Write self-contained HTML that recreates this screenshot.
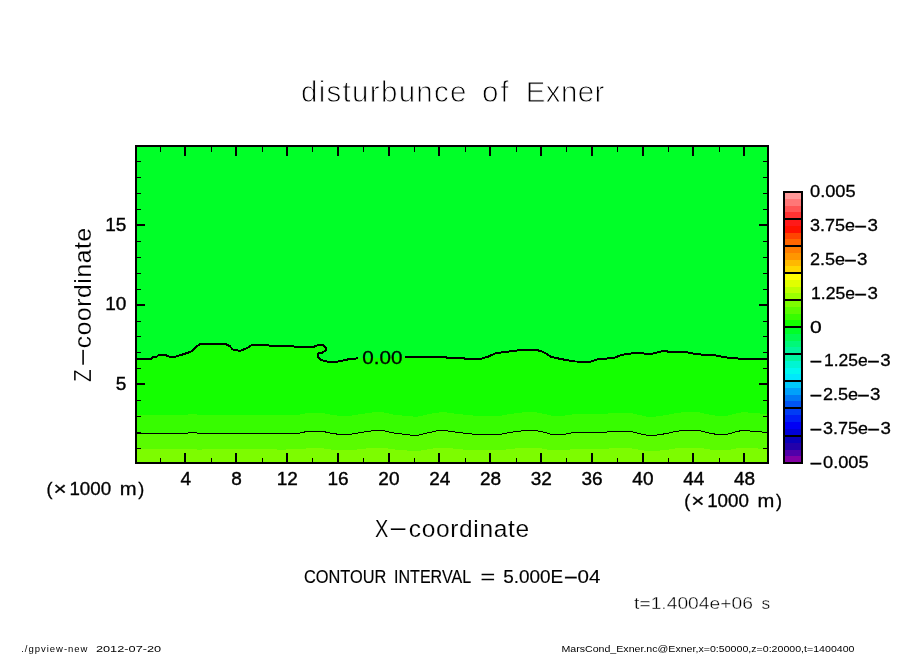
<!DOCTYPE html>
<html><head><meta charset="utf-8"><title>disturbunce of Exner</title>
<style>html,body{margin:0;padding:0;background:#fff}svg{display:block}text{font-family:"Liberation Sans",sans-serif;fill:#000}</style></head><body>
<svg width="904" height="654" viewBox="0 0 904 654">
<rect width="904" height="654" fill="#fff"/>
<g shape-rendering="crispEdges">
<rect x="136" y="146" width="632" height="317" fill="#00ff28"/>
<polygon fill="#14ff00" points="136.0,359.0 151.0,359.0 152.5,357.4 156.0,357.2 158.5,355.2 160.5,354.9 165.4,355.1 169.8,356.9 176.0,356.5 183.0,354.4 191.0,351.6 196.4,346.8 200.3,343.6 224.7,343.6 230.0,346.3 232.7,349.5 239.7,350.9 245.9,348.6 252.1,345.0 268.0,345.0 269.8,345.9 293.3,345.9 294.3,346.8 313.6,346.8 318.0,345.0 322.5,345.0 325.7,347.3 325.7,350.4 322.5,352.7 318.6,353.4 317.5,356.2 319.8,359.2 324.2,361.0 329.6,361.9 338.4,361.5 349.0,359.2 357.9,358.3 405.3,357.1 430.0,356.9 446.0,356.9 447.0,357.8 463.6,357.8 464.6,358.7 480.5,358.9 488.4,356.5 496.4,353.0 504.3,352.1 513.2,350.9 522.9,349.8 535.3,349.8 541.5,351.2 546.8,353.9 551.2,356.9 557.4,358.3 564.5,359.7 575.1,361.5 591.0,361.6 598.8,358.8 613.2,358.3 622.0,354.8 637.5,352.6 646.4,353.9 653.0,353.5 664.0,350.8 668.5,351.7 684.0,351.7 692.8,353.5 703.9,354.8 715.0,355.4 728.2,357.7 741.5,358.8 768.0,358.8 768,463 136,463"/>
<polygon fill="#37fc00" points="136.0,414.5 188.0,414.5 190.0,413.9 196.0,413.9 198.0,414.9 204.0,414.5 277.0,414.5 279.0,415.2 284.5,415.2 286.0,414.5 300.0,414.5 307.7,413.0 322.3,413.0 330.0,414.5 339.0,415.8 349.7,415.8 361.9,413.9 374.0,412.2 382.6,412.2 393.5,414.5 403.3,415.6 416.7,416.9 425.2,414.9 436.1,412.7 444.6,412.2 456.8,413.9 466.5,414.9 476.3,415.8 500.6,415.8 510.4,413.9 525.0,412.2 535.9,412.2 544.4,413.9 551.7,415.8 563.4,415.8 574.3,414.1 606.0,413.9 610.8,413.0 630.3,413.0 640.0,415.1 647.3,416.7 654.6,416.7 666.8,414.9 676.5,413.0 685.0,412.1 698.4,412.1 705.7,413.9 715.5,415.6 727.6,415.6 737.4,413.0 744.7,412.1 752.0,413.0 766.6,413.9 768.0,413.9 768,463 136,463"/>
<polygon fill="#5afc00" points="136.0,433.0 188.0,433.0 190.0,432.3 196.0,432.3 198.0,433.5 204.0,433.0 277.0,433.0 279.0,433.8 284.5,433.8 286.0,433.0 300.0,433.0 307.7,431.3 322.3,431.3 330.0,433.0 339.0,434.4 349.7,434.4 361.9,432.3 374.0,430.5 382.6,430.5 393.5,433.0 403.3,434.2 416.7,435.7 425.2,433.5 436.1,431.0 444.6,430.5 456.8,432.3 466.5,433.5 476.3,434.4 500.6,434.4 510.4,432.3 525.0,430.5 535.9,430.5 544.4,432.3 551.7,434.4 563.4,434.4 574.3,432.5 606.0,432.3 610.8,431.3 630.3,431.3 640.0,433.7 647.3,435.4 654.6,435.4 666.8,433.5 676.5,431.3 685.0,430.3 698.4,430.3 705.7,432.3 715.5,434.2 727.6,434.2 737.4,431.3 744.7,430.3 752.0,431.3 766.6,432.3 768.0,432.3 768,463 136,463"/>
<polygon fill="#7dfc00" points="136.0,449.4 188.0,449.4 190.0,448.9 196.0,448.9 198.0,449.8 204.0,449.4 277.0,449.4 279.0,450.0 284.5,450.0 286.0,449.4 300.0,449.4 307.7,448.2 322.3,448.2 330.0,449.4 339.0,450.4 349.7,450.4 361.9,448.9 374.0,447.6 382.6,447.6 393.5,449.4 403.3,450.2 416.7,451.3 425.2,449.8 436.1,448.0 444.6,447.6 456.8,448.9 466.5,449.8 476.3,450.4 500.6,450.4 510.4,448.9 525.0,447.6 535.9,447.6 544.4,448.9 551.7,450.4 563.4,450.4 574.3,449.0 606.0,448.9 610.8,448.2 630.3,448.2 640.0,449.9 647.3,451.1 654.6,451.1 666.8,449.8 676.5,448.2 685.0,447.5 698.4,447.5 705.7,448.9 715.5,450.2 727.6,450.2 737.4,448.2 744.7,447.5 752.0,448.2 766.6,448.9 768.0,448.9 768,463 136,463"/>
</g>
<polyline fill="none" stroke="#000" stroke-width="2" stroke-linejoin="round" shape-rendering="crispEdges" points="136.0,359.0 151.0,359.0 152.5,357.4 156.0,357.2 158.5,355.2 160.5,354.9 165.4,355.1 169.8,356.9 176.0,356.5 183.0,354.4 191.0,351.6 196.4,346.8 200.3,343.6 224.7,343.6 230.0,346.3 232.7,349.5 239.7,350.9 245.9,348.6 252.1,345.0 268.0,345.0 269.8,345.9 293.3,345.9 294.3,346.8 313.6,346.8 318.0,345.0 322.5,345.0 325.7,347.3 325.7,350.4 322.5,352.7 318.6,353.4 317.5,356.2 319.8,359.2 324.2,361.0 329.6,361.9 338.4,361.5 349.0,359.2 357.9,358.3"/>
<polyline fill="none" stroke="#000" stroke-width="2" stroke-linejoin="round" shape-rendering="crispEdges" points="405.3,357.1 430.0,356.9 446.0,356.9 447.0,357.8 463.6,357.8 464.6,358.7 480.5,358.9 488.4,356.5 496.4,353.0 504.3,352.1 513.2,350.9 522.9,349.8 535.3,349.8 541.5,351.2 546.8,353.9 551.2,356.9 557.4,358.3 564.5,359.7 575.1,361.5 591.0,361.6 598.8,358.8 613.2,358.3 622.0,354.8 637.5,352.6 646.4,353.9 653.0,353.5 664.0,350.8 668.5,351.7 684.0,351.7 692.8,353.5 703.9,354.8 715.0,355.4 728.2,357.7 741.5,358.8 768.0,358.8"/>
<polyline fill="none" stroke="#000" stroke-width="1" shape-rendering="crispEdges" points="136.0,433.0 188.0,433.0 190.0,432.3 196.0,432.3 198.0,433.5 204.0,433.0 277.0,433.0 279.0,433.8 284.5,433.8 286.0,433.0 300.0,433.0 307.7,431.3 322.3,431.3 330.0,433.0 339.0,434.4 349.7,434.4 361.9,432.3 374.0,430.5 382.6,430.5 393.5,433.0 403.3,434.2 416.7,435.7 425.2,433.5 436.1,431.0 444.6,430.5 456.8,432.3 466.5,433.5 476.3,434.4 500.6,434.4 510.4,432.3 525.0,430.5 535.9,430.5 544.4,432.3 551.7,434.4 563.4,434.4 574.3,432.5 606.0,432.3 610.8,431.3 630.3,431.3 640.0,433.7 647.3,435.4 654.6,435.4 666.8,433.5 676.5,431.3 685.0,430.3 698.4,430.3 705.7,432.3 715.5,434.2 727.6,434.2 737.4,431.3 744.7,430.3 752.0,431.3 766.6,432.3 768.0,432.3"/>
<g shape-rendering="crispEdges" fill="#000">
<rect x="135" y="145" width="634" height="2"/><rect x="135" y="462" width="634" height="2"/><rect x="135" y="145" width="2" height="319"/><rect x="767" y="145" width="2" height="319"/>
<rect x="160" y="458" width="1" height="4"/><rect x="160" y="147" width="1" height="5"/>
<rect x="184" y="453" width="2" height="9"/><rect x="184" y="147" width="2" height="9"/>
<rect x="211" y="458" width="1" height="4"/><rect x="211" y="147" width="1" height="5"/>
<rect x="235" y="453" width="2" height="9"/><rect x="235" y="147" width="2" height="9"/>
<rect x="262" y="458" width="1" height="4"/><rect x="262" y="147" width="1" height="5"/>
<rect x="286" y="453" width="2" height="9"/><rect x="286" y="147" width="2" height="9"/>
<rect x="312" y="458" width="1" height="4"/><rect x="312" y="147" width="1" height="5"/>
<rect x="337" y="453" width="2" height="9"/><rect x="337" y="147" width="2" height="9"/>
<rect x="363" y="458" width="1" height="4"/><rect x="363" y="147" width="1" height="5"/>
<rect x="388" y="453" width="2" height="9"/><rect x="388" y="147" width="2" height="9"/>
<rect x="414" y="458" width="1" height="4"/><rect x="414" y="147" width="1" height="5"/>
<rect x="438" y="453" width="2" height="9"/><rect x="438" y="147" width="2" height="9"/>
<rect x="465" y="458" width="1" height="4"/><rect x="465" y="147" width="1" height="5"/>
<rect x="489" y="453" width="2" height="9"/><rect x="489" y="147" width="2" height="9"/>
<rect x="516" y="458" width="1" height="4"/><rect x="516" y="147" width="1" height="5"/>
<rect x="540" y="453" width="2" height="9"/><rect x="540" y="147" width="2" height="9"/>
<rect x="566" y="458" width="1" height="4"/><rect x="566" y="147" width="1" height="5"/>
<rect x="591" y="453" width="2" height="9"/><rect x="591" y="147" width="2" height="9"/>
<rect x="617" y="458" width="1" height="4"/><rect x="617" y="147" width="1" height="5"/>
<rect x="642" y="453" width="2" height="9"/><rect x="642" y="147" width="2" height="9"/>
<rect x="668" y="458" width="1" height="4"/><rect x="668" y="147" width="1" height="5"/>
<rect x="692" y="453" width="2" height="9"/><rect x="692" y="147" width="2" height="9"/>
<rect x="719" y="458" width="1" height="4"/><rect x="719" y="147" width="1" height="5"/>
<rect x="743" y="453" width="2" height="9"/><rect x="743" y="147" width="2" height="9"/>
<rect x="137" y="448" width="4" height="1"/><rect x="763" y="448" width="4" height="1"/>
<rect x="137" y="432" width="4" height="1"/><rect x="763" y="432" width="4" height="1"/>
<rect x="137" y="416" width="4" height="1"/><rect x="763" y="416" width="4" height="1"/>
<rect x="137" y="400" width="4" height="1"/><rect x="763" y="400" width="4" height="1"/>
<rect x="137" y="383" width="8" height="2"/><rect x="759" y="383" width="8" height="2"/>
<rect x="137" y="368" width="4" height="1"/><rect x="763" y="368" width="4" height="1"/>
<rect x="137" y="352" width="4" height="1"/><rect x="763" y="352" width="4" height="1"/>
<rect x="137" y="336" width="4" height="1"/><rect x="763" y="336" width="4" height="1"/>
<rect x="137" y="321" width="4" height="1"/><rect x="763" y="321" width="4" height="1"/>
<rect x="137" y="304" width="8" height="2"/><rect x="759" y="304" width="8" height="2"/>
<rect x="137" y="289" width="4" height="1"/><rect x="763" y="289" width="4" height="1"/>
<rect x="137" y="273" width="4" height="1"/><rect x="763" y="273" width="4" height="1"/>
<rect x="137" y="257" width="4" height="1"/><rect x="763" y="257" width="4" height="1"/>
<rect x="137" y="241" width="4" height="1"/><rect x="763" y="241" width="4" height="1"/>
<rect x="137" y="224" width="8" height="2"/><rect x="759" y="224" width="8" height="2"/>
<rect x="137" y="209" width="4" height="1"/><rect x="763" y="209" width="4" height="1"/>
<rect x="137" y="193" width="4" height="1"/><rect x="763" y="193" width="4" height="1"/>
<rect x="137" y="177" width="4" height="1"/><rect x="763" y="177" width="4" height="1"/>
<rect x="137" y="161" width="4" height="1"/><rect x="763" y="161" width="4" height="1"/>
<rect x="784" y="192.00" width="18" height="7.25" fill="#ff9999"/>
<rect x="784" y="198.75" width="18" height="7.25" fill="#ff7777"/>
<rect x="784" y="205.50" width="18" height="7.25" fill="#ff5555"/>
<rect x="784" y="212.25" width="18" height="7.25" fill="#ff3333"/>
<rect x="784" y="219.00" width="18" height="7.25" fill="#ff1919"/>
<rect x="784" y="225.75" width="18" height="7.25" fill="#ff1100"/>
<rect x="784" y="232.50" width="18" height="7.25" fill="#ff4400"/>
<rect x="784" y="239.25" width="18" height="7.25" fill="#ff6600"/>
<rect x="784" y="246.00" width="18" height="7.25" fill="#ff7d00"/>
<rect x="784" y="252.75" width="18" height="7.25" fill="#ff9600"/>
<rect x="784" y="259.50" width="18" height="7.25" fill="#ffb900"/>
<rect x="784" y="266.25" width="18" height="7.25" fill="#ffd700"/>
<rect x="784" y="273.00" width="18" height="7.25" fill="#ffff00"/>
<rect x="784" y="279.75" width="18" height="7.25" fill="#e1ff00"/>
<rect x="784" y="286.50" width="18" height="7.25" fill="#beff00"/>
<rect x="784" y="293.25" width="18" height="7.25" fill="#9bff00"/>
<rect x="784" y="300.00" width="18" height="7.25" fill="#7dfc00"/>
<rect x="784" y="306.75" width="18" height="7.25" fill="#5afc00"/>
<rect x="784" y="313.50" width="18" height="7.25" fill="#37fc00"/>
<rect x="784" y="320.25" width="18" height="7.25" fill="#14ff00"/>
<rect x="784" y="327.00" width="18" height="7.25" fill="#00ff28"/>
<rect x="784" y="333.75" width="18" height="7.25" fill="#00fa50"/>
<rect x="784" y="340.50" width="18" height="7.25" fill="#00f878"/>
<rect x="784" y="347.25" width="18" height="7.25" fill="#00f59b"/>
<rect x="784" y="354.00" width="18" height="7.25" fill="#00f5a0"/>
<rect x="784" y="360.75" width="18" height="7.25" fill="#00f5d2"/>
<rect x="784" y="367.50" width="18" height="7.25" fill="#00f8ee"/>
<rect x="784" y="374.25" width="18" height="7.25" fill="#00e8fc"/>
<rect x="784" y="381.00" width="18" height="7.25" fill="#00c8fa"/>
<rect x="784" y="387.75" width="18" height="7.25" fill="#00a0fa"/>
<rect x="784" y="394.50" width="18" height="7.25" fill="#0078f5"/>
<rect x="784" y="401.25" width="18" height="7.25" fill="#0055f5"/>
<rect x="784" y="408.00" width="18" height="7.50" fill="#003cf5"/>
<rect x="784" y="415.00" width="18" height="7.50" fill="#001ef5"/>
<rect x="784" y="422.00" width="18" height="7.50" fill="#0000f5"/>
<rect x="784" y="429.00" width="18" height="7.50" fill="#0000d7"/>
<rect x="784" y="436.00" width="18" height="7.25" fill="#0a00b9"/>
<rect x="784" y="442.75" width="18" height="7.25" fill="#2300aa"/>
<rect x="784" y="449.50" width="18" height="7.25" fill="#5000aa"/>
<rect x="784" y="456.25" width="18" height="7.25" fill="#8200a5"/>
<rect x="783" y="191" width="2" height="273"/><rect x="801" y="191" width="2" height="273"/>
<rect x="783" y="191" width="20" height="2"/>
<rect x="783" y="218" width="20" height="2"/>
<rect x="783" y="245" width="20" height="2"/>
<rect x="783" y="272" width="20" height="2"/>
<rect x="783" y="299" width="20" height="2"/>
<rect x="783" y="326" width="20" height="2"/>
<rect x="783" y="353" width="20" height="2"/>
<rect x="783" y="380" width="20" height="2"/>
<rect x="783" y="407" width="20" height="2"/>
<rect x="783" y="435" width="20" height="2"/>
<rect x="783" y="462" width="20" height="2"/>
</g>
<text y="102.4" font-size="29.5" stroke="#fff" stroke-width="0.9"><tspan x="301.00" textLength="165.52" lengthAdjust="spacing">disturbunce</tspan> <tspan x="482.00" textLength="26.61" lengthAdjust="spacing">of</tspan> <tspan x="525.70" textLength="78.68" lengthAdjust="spacing">Exner</tspan></text>
<text y="537" font-size="24.5" stroke="#fff" stroke-width="0.15"><tspan x="375.00" textLength="13.28" lengthAdjust="spacingAndGlyphs">X</tspan><tspan x="388.10" dy="-2" textLength="20.42" lengthAdjust="spacingAndGlyphs">-</tspan><tspan x="408.80" dy="2" textLength="120.32" lengthAdjust="spacing">coordinate</tspan></text>
<text y="0" font-size="24.5" transform="translate(91,381) rotate(-90)" stroke="#fff" stroke-width="0.15"><tspan x="-1.00" textLength="12.74" lengthAdjust="spacingAndGlyphs">Z</tspan><tspan x="13.20" dy="-2" textLength="20.76" lengthAdjust="spacingAndGlyphs">-</tspan><tspan x="32.80" dy="2" textLength="120.32" lengthAdjust="spacing">coordinate</tspan></text>
<text x="185.7" y="485" font-size="19" text-anchor="middle" stroke="#000" stroke-width="0.4">4</text>
<text x="236.5" y="485" font-size="19" text-anchor="middle" stroke="#000" stroke-width="0.4">8</text>
<text x="287.3" y="485" font-size="19" text-anchor="middle" stroke="#000" stroke-width="0.4">12</text>
<text x="338.1" y="485" font-size="19" text-anchor="middle" stroke="#000" stroke-width="0.4">16</text>
<text x="388.9" y="485" font-size="19" text-anchor="middle" stroke="#000" stroke-width="0.4">20</text>
<text x="439.7" y="485" font-size="19" text-anchor="middle" stroke="#000" stroke-width="0.4">24</text>
<text x="490.5" y="485" font-size="19" text-anchor="middle" stroke="#000" stroke-width="0.4">28</text>
<text x="541.3" y="485" font-size="19" text-anchor="middle" stroke="#000" stroke-width="0.4">32</text>
<text x="592.1" y="485" font-size="19" text-anchor="middle" stroke="#000" stroke-width="0.4">36</text>
<text x="642.9" y="485" font-size="19" text-anchor="middle" stroke="#000" stroke-width="0.4">40</text>
<text x="693.7" y="485" font-size="19" text-anchor="middle" stroke="#000" stroke-width="0.4">44</text>
<text x="744.5" y="485" font-size="19" text-anchor="middle" stroke="#000" stroke-width="0.4">48</text>
<text x="126.3" y="390.1" font-size="19" text-anchor="end" stroke="#000" stroke-width="0.4">5</text>
<text x="126.3" y="310.4" font-size="19" text-anchor="end" stroke="#000" stroke-width="0.4">10</text>
<text x="126.3" y="230.7" font-size="19" text-anchor="end" stroke="#000" stroke-width="0.4">15</text>
<text y="495.3" font-size="18" stroke="#000" stroke-width="0.3"><tspan x="46.50" textLength="6.00" lengthAdjust="spacingAndGlyphs">(</tspan><tspan x="53.50" textLength="13.16" lengthAdjust="spacingAndGlyphs">×</tspan><tspan x="69.40" textLength="41.74" lengthAdjust="spacingAndGlyphs">1000</tspan> <tspan x="119.80" textLength="16.80" lengthAdjust="spacingAndGlyphs">m</tspan><tspan x="138.30" textLength="6.00" lengthAdjust="spacingAndGlyphs">)</tspan></text>
<text y="507" font-size="18" stroke="#000" stroke-width="0.3"><tspan x="684.30" textLength="6.00" lengthAdjust="spacingAndGlyphs">(</tspan><tspan x="691.30" textLength="13.16" lengthAdjust="spacingAndGlyphs">×</tspan><tspan x="707.20" textLength="41.74" lengthAdjust="spacingAndGlyphs">1000</tspan> <tspan x="757.60" textLength="16.80" lengthAdjust="spacingAndGlyphs">m</tspan><tspan x="776.10" textLength="6.00" lengthAdjust="spacingAndGlyphs">)</tspan></text>
<text y="197.2" font-size="17" stroke="#000" stroke-width="0.3"><tspan x="810.00" textLength="45.66" lengthAdjust="spacingAndGlyphs">0.005</tspan></text>
<text y="231.0" font-size="17" stroke="#000" stroke-width="0.3"><tspan x="810.00" textLength="45.05" lengthAdjust="spacingAndGlyphs">3.75e</tspan><tspan x="853.80" textLength="13.89" lengthAdjust="spacingAndGlyphs">-</tspan><tspan x="867.50" textLength="10.43" lengthAdjust="spacingAndGlyphs">3</tspan></text>
<text y="264.9" font-size="17" stroke="#000" stroke-width="0.3"><tspan x="810.00" textLength="35.15" lengthAdjust="spacingAndGlyphs">2.5e</tspan><tspan x="843.40" textLength="13.89" lengthAdjust="spacingAndGlyphs">-</tspan><tspan x="857.10" textLength="10.43" lengthAdjust="spacingAndGlyphs">3</tspan></text>
<text y="298.8" font-size="17" stroke="#000" stroke-width="0.3"><tspan x="811.00" textLength="44.01" lengthAdjust="spacingAndGlyphs">1.25e</tspan><tspan x="853.80" textLength="13.89" lengthAdjust="spacingAndGlyphs">-</tspan><tspan x="867.50" textLength="10.43" lengthAdjust="spacingAndGlyphs">3</tspan></text>
<text y="332.6" font-size="17" stroke="#000" stroke-width="0.3"><tspan x="810.00" textLength="11.74" lengthAdjust="spacingAndGlyphs">0</tspan></text>
<text y="366.4" font-size="17" stroke="#000" stroke-width="0.3"><tspan x="809.10" textLength="13.89" lengthAdjust="spacingAndGlyphs">-</tspan><tspan x="823.90" textLength="43.81" lengthAdjust="spacingAndGlyphs">1.25e</tspan><tspan x="866.60" textLength="13.89" lengthAdjust="spacingAndGlyphs">-</tspan><tspan x="880.30" textLength="10.43" lengthAdjust="spacingAndGlyphs">3</tspan></text>
<text y="400.3" font-size="17" stroke="#000" stroke-width="0.3"><tspan x="809.10" textLength="13.89" lengthAdjust="spacingAndGlyphs">-</tspan><tspan x="823.00" textLength="35.15" lengthAdjust="spacingAndGlyphs">2.5e</tspan><tspan x="856.40" textLength="13.89" lengthAdjust="spacingAndGlyphs">-</tspan><tspan x="870.10" textLength="10.43" lengthAdjust="spacingAndGlyphs">3</tspan></text>
<text y="434.2" font-size="17" stroke="#000" stroke-width="0.3"><tspan x="809.10" textLength="13.89" lengthAdjust="spacingAndGlyphs">-</tspan><tspan x="823.00" textLength="45.05" lengthAdjust="spacingAndGlyphs">3.75e</tspan><tspan x="866.80" textLength="13.89" lengthAdjust="spacingAndGlyphs">-</tspan><tspan x="880.50" textLength="10.43" lengthAdjust="spacingAndGlyphs">3</tspan></text>
<text y="468.0" font-size="17" stroke="#000" stroke-width="0.3"><tspan x="809.10" textLength="13.89" lengthAdjust="spacingAndGlyphs">-</tspan><tspan x="823.00" textLength="45.66" lengthAdjust="spacingAndGlyphs">0.005</tspan></text>
<text y="363.6" font-size="18.5" stroke="#000" stroke-width="0.3"><tspan x="362.20" textLength="40.25" lengthAdjust="spacingAndGlyphs">0.00</tspan></text>
<text y="583" font-size="17.8" stroke="#000" stroke-width="0.15"><tspan x="304.00" textLength="82.43" lengthAdjust="spacingAndGlyphs">CONTOUR</tspan> <tspan x="394.00" textLength="76.48" lengthAdjust="spacingAndGlyphs">INTERVAL</tspan> <tspan x="480.50" textLength="14.72" lengthAdjust="spacingAndGlyphs">=</tspan> <tspan x="503.20" textLength="60.04" lengthAdjust="spacingAndGlyphs">5.000E</tspan><tspan x="563.10" textLength="15.68" lengthAdjust="spacingAndGlyphs">-</tspan><tspan x="577.50" textLength="22.87" lengthAdjust="spacingAndGlyphs">04</tspan></text>
<text y="609" font-size="17.3" stroke="#fff" stroke-width="0.35"><tspan x="634.10" textLength="118.76" lengthAdjust="spacingAndGlyphs">t=1.4004e+06</tspan> <tspan x="761.50" textLength="8.64" lengthAdjust="spacingAndGlyphs">s</tspan></text>
<text y="652" font-size="9.5" ><tspan x="21.20" textLength="66.25" lengthAdjust="spacing">./gpview-new</tspan> <tspan x="95.90" textLength="65.31" lengthAdjust="spacingAndGlyphs">2012-07-20</tspan></text>
<text y="652" font-size="9.5" ><tspan x="561.40" textLength="293.13" lengthAdjust="spacingAndGlyphs">MarsCond_Exner.nc@Exner,x=0:50000,z=0:20000,t=1400400</tspan></text>
</svg></body></html>
